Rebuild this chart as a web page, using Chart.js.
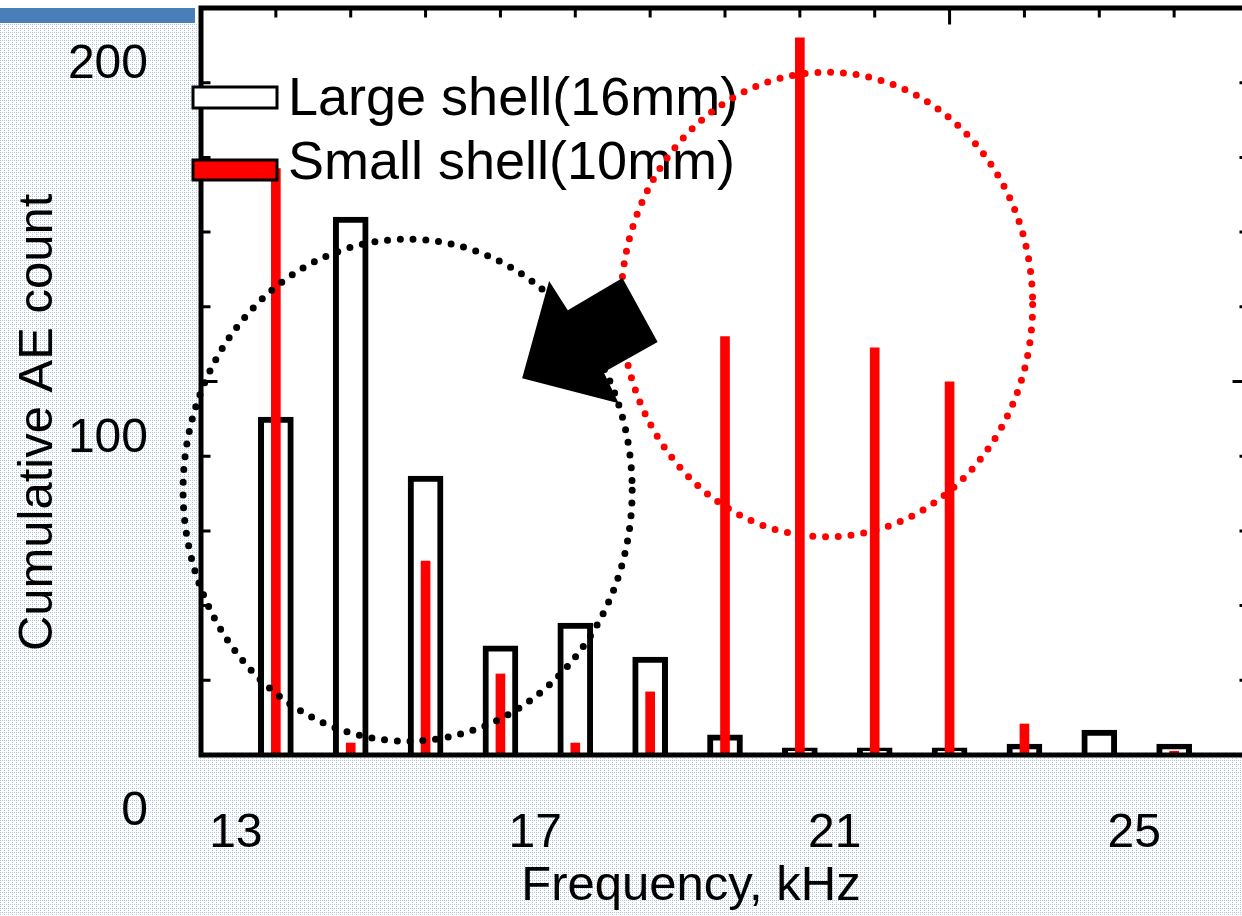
<!DOCTYPE html>
<html>
<head>
<meta charset="utf-8">
<title>Cumulative AE count vs frequency</title>
<script src="https://cdn.jsdelivr.net/npm/chart.js@4.4.1/dist/chart.umd.min.js"></script>
<style>
  html, body { margin: 0; padding: 0; overflow: hidden; background: #fff; }
  canvas { display: block; }
</style>
</head>
<body>
<canvas id="ae-chart" width="1252" height="916"></canvas>
<script>
// data
const frequencies = [13, 14, 15, 16, 17, 18, 19, 20, 21, 22, 23, 24, 25]; // kHz
const largeShell = [90.5, 144, 74.7, 29.2, 35.3, 26.2, 5.4, 1.9, 1.9, 1.9, 2.9, 6.7, 2.9];
const smallShell = [157, 3.2, 51.9, 21.7, 3.2, 16.9, 112, 192, 109, 99.9, 8.3, 0.4, 1];
const xTickLabels = [13, 17, 21, 25];
const yTickLabels = [0, 100, 200];
const yMinorTicks = [20, 40, 60, 80, 100, 120, 140, 160, 180];

// dotted ellipses and the arrow, in data units (kHz, count)
const highlights = [
    { kHz: 14.76, count: 70.9, rkHz: 3.0, rCount: 67.2, color: '#000000' },
    { kHz: 20.36, count: 120.6, rkHz: 2.75, rCount: 62.2, color: '#ff0000' }
];
const arrowShape = [
    [16.29, 100.9], [16.65, 126.9], [16.90, 119.1], [17.63, 127.7],
    [18.10, 110.6], [17.38, 102.5], [17.58, 94.2]
];

Chart.defaults.font.family = "'Liberation Sans', Arial, sans-serif";
Chart.defaults.color = '#000';

function dotPattern(ctx) {
    const c = document.createElement('canvas');
    c.width = 4;
    c.height = 4;
    const g = c.getContext('2d');
    g.fillStyle = '#ffffff';
    g.fillRect(0, 0, 4, 4);
    g.fillStyle = '#b3c7e2';
    g.fillRect(0, 0, 1, 1);
    g.fillRect(2, 0, 1, 1);
    g.fillRect(0, 2, 1, 1);
    return ctx.createPattern(c, 'repeat');
}

// slide background: pattern fill outside the plot + blue title bar
const slideBackground = {
    id: 'slideBackground',
    beforeDraw(chart) {
        const {ctx, chartArea: a, width, height} = chart;
        ctx.save();
        ctx.fillStyle = '#ffffff';
        ctx.fillRect(0, 0, width, height);
        ctx.fillStyle = dotPattern(ctx);
        ctx.fillRect(0, a.top + 15, a.left - 4, height - a.top - 15);
        ctx.fillRect(a.left - 4, a.bottom + 3, width - a.left + 4, height - a.bottom - 3);
        ctx.fillStyle = '#4a7eb8';
        ctx.fillRect(0, a.top, a.left - 6, 15);
        ctx.restore();
    }
};

// frame, inward ticks, legend, circles and arrow
const frameAndNotes = {
    id: 'frameAndNotes',
    afterDatasetsDraw(chart) {
        const {ctx, chartArea: a} = chart;
        const x = chart.scales.x;
        const y = chart.scales.y;
        ctx.save();

        // frame
        ctx.strokeStyle = '#000';
        ctx.lineWidth = 5;
        ctx.strokeRect(a.left, a.top, a.right - a.left, a.bottom - a.top);

        // inward tick marks
        ctx.lineWidth = 3;
        ctx.beginPath();
        yMinorTicks.forEach(v => {
            const py = y.getPixelForValue(v);
            const len = v === 100 ? 14 : 7;
            ctx.moveTo(a.left, py);
            ctx.lineTo(a.left + 2.5 + len, py);
            ctx.moveTo(a.right, py);
            ctx.lineTo(a.right - 2.5 - len, py);
        });
        frequencies.forEach(f => {
            const px = x.getPixelForValue(f);
            const len = f === 22 ? 14 : 7;
            ctx.moveTo(px, a.top);
            ctx.lineTo(px, a.top + 2.5 + len);
        });
        ctx.stroke();

        // legend
        ctx.font = "54px 'Liberation Sans', Arial, sans-serif";
        ctx.textBaseline = 'alphabetic';
        ctx.textAlign = 'left';
        const rows = [{boxTop: 79, boxH: 21, baseline: 107}, {boxTop: 152, boxH: 20, baseline: 171}];
        chart.data.datasets.forEach((ds, i) => {
            const r = rows[i];
            ctx.fillStyle = ds.backgroundColor;
            ctx.fillRect(a.left - 8, a.top + r.boxTop, 84, r.boxH);
            ctx.lineWidth = 3;
            ctx.strokeStyle = '#000';
            ctx.strokeRect(a.left - 8, a.top + r.boxTop, 84, r.boxH);
            ctx.fillStyle = '#000';
            ctx.fillText(ds.label, a.left + 87, a.top + r.baseline);
        });

        // dotted ellipses
        ctx.lineCap = 'round';
        ctx.lineWidth = 7;
        ctx.setLineDash([0, 12.8]);
        highlights.forEach(h => {
            const cx = x.getPixelForValue(h.kHz);
            const cy = y.getPixelForValue(h.count);
            const rx = x.getPixelForValue(h.kHz + h.rkHz) - cx;
            const ry = cy - y.getPixelForValue(h.count + h.rCount);
            ctx.strokeStyle = h.color;
            ctx.beginPath();
            ctx.ellipse(cx, cy, rx, ry, 0, 0, Math.PI * 2);
            ctx.stroke();
        });
        ctx.setLineDash([]);

        // block arrow
        ctx.fillStyle = '#000';
        ctx.beginPath();
        arrowShape.forEach(([f, c], i) => {
            const px = x.getPixelForValue(f);
            const py = y.getPixelForValue(c);
            if (i === 0) ctx.moveTo(px, py); else ctx.lineTo(px, py);
        });
        ctx.closePath();
        ctx.fill();

        ctx.restore();
    }
};

new Chart(document.getElementById('ae-chart'), {
    type: 'bar',
    data: {
        datasets: [
            {
                label: 'Large shell(16mm)',
                data: frequencies.map((f, i) => ({x: f, y: largeShell[i]})),
                backgroundColor: '#ffffff',
                borderColor: '#000000',
                borderWidth: 6,
                borderSkipped: 'start',
                barThickness: 35,
                grouped: false,
                order: 2
            },
            {
                label: 'Small shell(10mm)',
                data: frequencies.map((f, i) => ({x: f, y: smallShell[i]})),
                backgroundColor: '#ff0000',
                borderWidth: 0,
                barThickness: 9,
                grouped: false,
                order: 1
            }
        ]
    },
    options: {
        responsive: false,
        animation: false,
        devicePixelRatio: 1,
        layout: { padding: { top: 8, right: 3, left: 0, bottom: 0 } },
        plugins: {
            legend: { display: false },
            tooltip: { enabled: false }
        },
        scales: {
            x: {
                type: 'linear',
                offset: false,
                min: 12,
                max: 26,
                grid: { display: false, drawTicks: false },
                border: { display: false },
                afterBuildTicks: s => { s.ticks = xTickLabels.map(v => ({value: v})); },
                afterFit: s => { s.height = 161; s.paddingLeft = 0; s.paddingRight = 0; },
                ticks: { autoSkip: false, maxRotation: 0, padding: 50, labelOffset: -40, font: { size: 48 } },
                title: {
                    display: true,
                    text: 'Frequency, kHz     ',
                    font: { size: 49 },
                    padding: { top: 0, bottom: 0 }
                }
            },
            y: {
                min: 0,
                max: 200,
                grid: { display: false, drawTicks: false },
                border: { display: false },
                afterBuildTicks: s => { s.ticks = yTickLabels.map(v => ({value: v})); },
                afterFit: s => { s.width = 201; s.paddingTop = 0; s.paddingBottom = 0; },
                ticks: { padding: 53, labelOffset: 57, font: { size: 48 } },
                title: {
                    display: true,
                    text: 'Cumulative AE count      ',
                    font: { size: 49 },
                    padding: { top: 9, bottom: 0 }
                }
            }
        }
    },
    plugins: [slideBackground, frameAndNotes]
});
</script>
</body>
</html>
